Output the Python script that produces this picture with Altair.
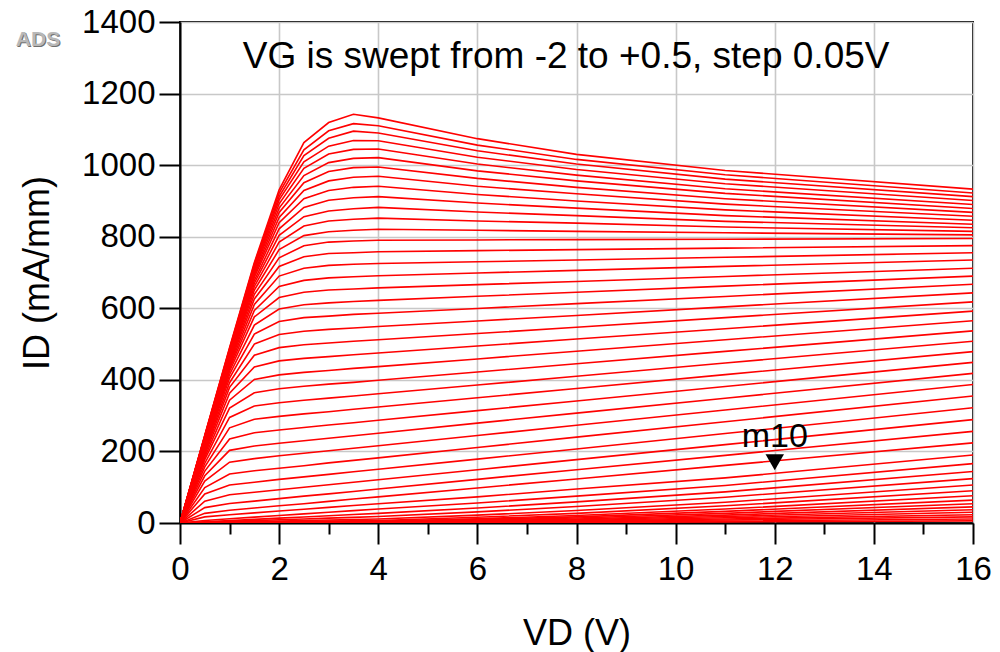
import altair as alt
import pandas as pd

# Drain voltage sample points (V)
VD = [0, 0.5, 1, 1.5, 2, 2.5, 3, 3.5, 4, 6, 8, 11, 16]

# Gate voltages of the sweep, top curve (+0.5 V) first, step 0.05 V
VG = [round(0.5 - 0.05 * j, 2) for j in range(51)]

# Drain current (mA/mm) of every curve at each VD sample, same order as VG
ID_00 = [0] * 51
ID_05 = [245, 244, 243, 242, 241, 240, 238, 237, 235, 233, 232, 230, 227, 226, 223, 221, 218, 214, 211, 207,
         202, 197, 191, 184, 177, 167, 157, 145, 132, 117, 99, 81, 61, 43, 27, 17, 7, 3.4, 2.25, 1.4,
         0.9, 0.6, 0.5, 0.4, 0.3, 0.25, 0.2, 0.15, 0.1, 0.1, 0.05]
ID_10 = [490, 488, 485, 483, 481, 478, 475, 472, 469, 465, 462, 457, 453, 448, 443, 437, 431, 424, 415, 405,
         392, 379, 363, 343, 321, 295, 266, 235, 203, 170, 137, 106, 79, 54.5, 35.5, 23, 12, 6.75, 4.5, 2.75,
         1.75, 1.25, 1, 0.75, 0.6, 0.5, 0.4, 0.3, 0.25, 0.2, 0.1]
ID_15 = [728, 724, 720, 715, 710, 706, 699, 693, 687, 678, 670, 661, 651, 639, 626, 611, 594, 576, 553, 528,
         500, 469, 436, 401, 364, 327, 290, 252, 215, 180, 146, 114, 86, 61, 42, 28.4, 16.5, 10.1, 6.75, 4.1,
         2.6, 1.9, 1.5, 1.1, 0.9, 0.75, 0.6, 0.45, 0.4, 0.3, 0.2]
ID_20 = [931, 922, 912, 903, 892, 880, 868, 854, 839, 822, 804, 785, 764, 741, 717, 690, 661, 630, 598, 563,
         527, 490, 453, 414, 375, 336, 298, 260, 223, 188, 153, 122, 93, 68, 48, 33.5, 21, 13.5, 9, 5.5,
         3.5, 2.5, 2, 1.5, 1.25, 1, 0.75, 0.6, 0.5, 0.4, 0.25]
ID_25 = [1063, 1043, 1027, 1009, 991, 971, 951, 929, 906, 882, 856, 830, 803, 775, 744, 712, 678, 645, 610, 574,
         536, 498, 460, 421, 382, 343, 305, 267, 230, 195, 160, 129, 100, 75, 54, 38.6, 25.5, 16.9, 11.25, 6.9,
         4.4, 3.1, 2.5, 1.9, 1.6, 1.25, 0.9, 0.75, 0.6, 0.5, 0.3]
ID_30 = [1119, 1096, 1075, 1053, 1031, 1007, 982, 956, 929, 902, 872, 844, 814, 785, 753, 720, 685, 651, 615, 578,
         541, 503, 465, 426, 388, 349, 311, 274, 237, 202, 168, 136, 107, 81.5, 60.5, 43.75, 30, 20.25, 13.5, 8.25,
         5.25, 3.75, 3, 2.25, 1.9, 1.5, 1.1, 0.9, 0.75, 0.6, 0.4]
ID_35 = [1142, 1116, 1095, 1069, 1044, 1019, 993, 966, 938, 909, 878, 849, 818, 788, 755, 723, 688, 654, 619, 583,
         545, 508, 470, 432, 393, 355, 318, 280, 244, 209, 175, 143, 114, 88, 67, 48.9, 34.5, 23.6, 15.75, 9.6,
         6.1, 4.4, 3.5, 2.6, 2.2, 1.75, 1.3, 1.05, 0.9, 0.7, 0.45]
ID_40 = [1132, 1110, 1090, 1068, 1045, 1021, 995, 969, 941, 912, 882, 852, 821, 790, 758, 725, 691, 657, 622, 586,
         549, 512, 475, 437, 399, 361, 324, 287, 251, 216, 182, 150, 121, 95, 73, 54, 39, 27, 18, 11,
         7, 5, 4, 3, 2.5, 2, 1.5, 1.2, 1, 0.8, 0.5]
ID_60 = [1074, 1056, 1040, 1022, 1003, 984, 963, 941, 918, 894, 869, 844, 818, 791, 761, 730, 698.5, 666, 633.5, 599.5,
         564.5, 529.5, 494.5, 458.5, 422, 385.5, 350, 314, 279, 244.5, 211, 178.5, 149, 122, 98, 73, 56, 42, 31, 22,
         16, 12, 10, 8, 6.5, 5.2, 4, 3.2, 2.4, 1.7, 1]
ID_80 = [1030, 1016, 1003, 988, 972, 956, 938, 920, 900, 880, 859, 838, 815, 792, 764, 735, 706, 675, 645, 613,
         580, 547, 514, 480, 445, 410, 376, 341, 307, 273, 240, 207, 177, 149, 123, 95, 75, 59, 46, 35,
         27, 21, 17, 14, 11, 9, 7, 5.6, 4.2, 2.8, 1.6]
ID_110 = [985, 973, 961, 948, 934, 921, 906, 891, 875, 859, 843, 827, 811, 793, 768, 742.5, 717, 689, 662, 633,
          604, 574, 543, 512, 479.5, 447, 414.6, 381.5, 348.6, 315.75, 283, 250, 219, 189, 161, 126, 105, 87, 72, 58,
          48, 39, 32.5, 27, 22, 18, 14.6, 11.3, 8.4, 5.5, 3.1]
ID_160 = [933, 922, 912, 901, 890, 879, 868, 857, 846, 835, 825, 815, 805, 795, 775, 755, 735, 712, 690, 667,
          643, 618, 592, 565, 537, 508, 479, 449, 418, 387, 355, 322, 289, 256, 224, 190, 166, 144, 124, 106,
          90, 76, 64, 54, 45, 37, 30, 23, 17, 11, 6]

COLUMNS = [ID_00, ID_05, ID_10, ID_15, ID_20, ID_25, ID_30, ID_35, ID_40, ID_60, ID_80, ID_110, ID_160]

TITLE = "VG is swept from -2 to +0.5, step 0.05V"
MARKER_LABEL = "m10"
MARKER_VD = [12]
MARKER_ID = [170]

rows = []
for j, vg in enumerate(VG):
    for vd, col in zip(VD, COLUMNS):
        rows.append({"VG": vg, "VD": vd, "ID": col[j]})
df = pd.DataFrame(rows)

FONT = "Liberation Sans"

xaxis = alt.Axis(
    values=list(range(0, 17)),
    format="d",
    labelExpr="datum.value % 2 === 0 ? datum.label : ''",
    tickSize={"condition": {"test": "datum.value % 2 !== 0", "value": 11}, "value": 21},
    gridOpacity={"condition": {"test": "datum.value % 2 !== 0", "value": 0}, "value": 1},
    labelPadding=9,
    title="VD (V)",
    titleY=121,
    titleBaseline="alphabetic",
)
yaxis = alt.Axis(
    values=list(range(0, 1401, 100)),
    format="d",
    labelExpr="datum.value % 200 === 0 ? datum.label : ''",
    tickSize={"condition": {"test": "datum.value % 200 !== 0", "value": 11}, "value": 21},
    gridOpacity={"condition": {"test": "datum.value % 200 !== 0", "value": 0}, "value": 1},
    labelPadding=4,
    title="ID (mA/mm)",
    titleX=-132,
    titleBaseline="alphabetic",
)

xs = alt.Scale(domain=[0, 16], nice=False, zero=False)
ys = alt.Scale(domain=[0, 1400], nice=False)

lines = alt.Chart(df).mark_line(color="#ff0000", strokeWidth=1.6, clip=True).encode(
    x=alt.X("VD:Q", scale=xs, axis=xaxis),
    y=alt.Y("ID:Q", scale=ys, axis=yaxis),
    detail="VG:N",
)

title_text = alt.Chart(pd.DataFrame({"t": [TITLE]})).mark_text(
    font=FONT, fontSize=37, color="black", align="center", baseline="alphabetic"
).encode(x=alt.datum(7.79), y=alt.datum(1271), text="t:N")

mdf = pd.DataFrame({"VD": MARKER_VD, "ID": MARKER_ID, "t": [MARKER_LABEL]})
marker = alt.Chart(mdf).mark_point(
    shape="triangle-down", filled=True, color="black", size=340, opacity=1
).encode(x="VD:Q", y="ID:Q")
marker_text = alt.Chart(mdf).mark_text(
    font=FONT, fontSize=34, color="black", align="center", baseline="alphabetic", dy=-15
).encode(x="VD:Q", y="ID:Q", text="t:N")

ads_df = pd.DataFrame({"t": ["ADS"]})
ads_shadow = alt.Chart(ads_df).mark_text(
    font=FONT, fontSize=21, fontWeight="bold", color="#6f6f6f", align="center", baseline="alphabetic"
).encode(x=alt.value(-141), y=alt.value(25), text="t:N")
ads = alt.Chart(ads_df).mark_text(
    font=FONT, fontSize=21, fontWeight="bold", color="#b8b8b8", align="center", baseline="alphabetic"
).encode(x=alt.value(-142), y=alt.value(24), text="t:N")

chart = alt.layer(lines, title_text, marker, marker_text, ads_shadow, ads).properties(
    width=793,
    height=501,
    autosize=alt.AutoSizeParams(type="none"),
    padding={"left": 180, "top": 22, "right": 27, "bottom": 129},
    background="white",
).configure_view(
    stroke="black", strokeWidth=2
).configure_axis(
    domainColor="black", domainWidth=2,
    tickColor="black", tickWidth=2,
    gridColor="#c8c8c8", gridWidth=1.6,
    labelFont=FONT, labelFontSize=33, labelColor="black",
    titleFont=FONT, titleFontSize=36, titleColor="black", titleFontWeight="normal",
    labelOverlap=False, labelFlush=False,
)

chart.save("out.html", embed_options={"renderer": "svg", "actions": False})
